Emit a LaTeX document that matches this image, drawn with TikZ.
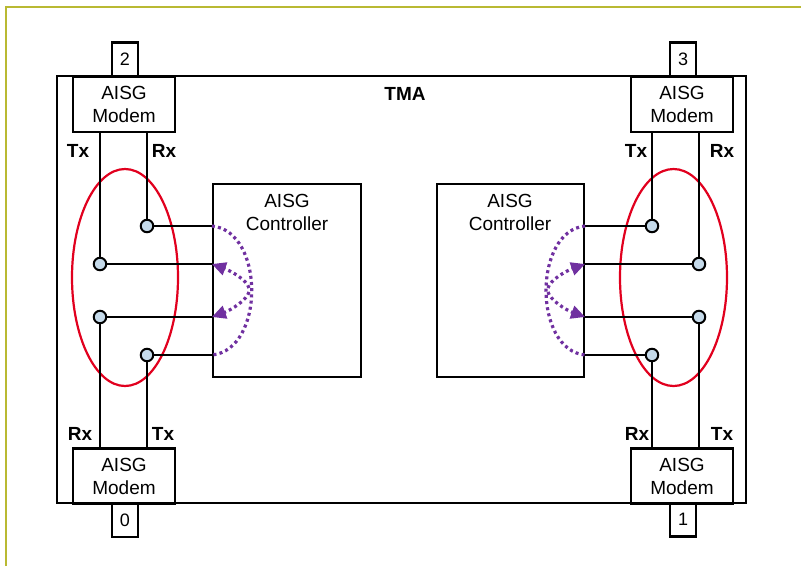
\documentclass[tikz,border=0pt]{standalone}
\usepackage{fontspec}
\setmainfont{Liberation Sans}
\usetikzlibrary{shapes.geometric,arrows.meta}
\definecolor{frameol}{RGB}{185,185,50}
\definecolor{ellred}{RGB}{225,0,30}
\definecolor{purp}{RGB}{112,48,160}
\definecolor{dotblue}{RGB}{197,218,234}
\tikzset{
  txt/.style={font=\fontsize{19}{23}\selectfont, inner sep=0pt},
  lbl/.style={font=\fontsize{19}{23}\selectfont\bfseries, inner sep=0pt},
  box/.style={draw, line width=2.2pt, fill=white, align=center, inner sep=0pt, font=\fontsize{19}{23}\selectfont},
  modem/.style={box, minimum width=102pt, minimum height=55pt},
  port/.style={box, minimum width=26pt, minimum height=34pt, font=\fontsize{18}{22}\selectfont},
  wire/.style={line width=2.2pt},
  jdot/.style={circle, draw, fill=dotblue, line width=2pt, minimum size=12.5pt, inner sep=0pt},
  ell/.style={ellipse, draw=ellred, line width=2.2pt, inner sep=0pt},
  pdot/.style={draw=purp, line width=3.2pt, dash pattern=on 3pt off 3.2pt},
  parrow/.style={pdot, -{Triangle[length=14pt,width=13pt,fill=purp]}}
}
\begin{document}
\begin{tikzpicture}[x=1pt,y=-1pt]
\useasboundingbox (0,0) rectangle (801,566);
% outer olive frame
\coordinate (fa) at (6,566);
\coordinate (fb) at (6,7);
\coordinate (fc) at (801,7);
\draw[frameol, line width=2.4pt] (fa) -- (fb) -- (fc);

% TMA box
\node[draw, line width=2.2pt, minimum width=689pt, minimum height=427pt, inner sep=0pt] (tma) at (401.5,289.5) {};
\node[lbl] (tmal) at (405,94) {TMA};

% ports
\node[port] (p2) at (125,59.5) {2};
\node[port] (p3) at (683,59.5) {3};
\node[port] (p0) at (125,520) {0};
\node[port] (p1) at (683,519.5) {1};

% modems
\node[modem] (mTL) at (124,104.5) {AISG\\Modem};
\node[modem] (mTR) at (682,104.5) {AISG\\Modem};
\node[modem] (mBL) at (124,476) {AISG\\Modem};
\node[modem] (mBR) at (682,476) {AISG\\Modem};

% controllers
\node[draw, line width=2.2pt, minimum width=148pt, minimum height=193pt, inner sep=0pt] (cL) at (287,280.5) {};
\node[draw, line width=2.2pt, minimum width=147pt, minimum height=193pt, inner sep=0pt] (cR) at (510.5,280.5) {};
\node[txt, anchor=north, align=center] (cLt) at (287,194.5) {AISG\\Controller};
\node[txt, anchor=north, align=center] (cRt) at (510,194.5) {AISG\\Controller};

% ellipses
\node[ell, minimum width=106pt, minimum height=217pt] (eL) at (125,277.5) {};
\node[ell, minimum width=107pt, minimum height=217pt] (eR) at (673.5,277.5) {};

% junction dots
\node[jdot] (l1) at (147,226) {};
\node[jdot] (l2) at (100,264) {};
\node[jdot] (l3) at (100,317) {};
\node[jdot] (l4) at (147,355) {};
\node[jdot] (r1) at (652,226) {};
\node[jdot] (r2) at (699,264) {};
\node[jdot] (r3) at (699,317) {};
\node[jdot] (r4) at (652,355) {};

% vertical wires
\draw[wire] (l1 |- mTL.south) -- (l1);
\draw[wire] (l2 |- mTL.south) -- (l2);
\draw[wire] (l3) -- (l3 |- mBL.north);
\draw[wire] (l4) -- (l4 |- mBL.north);
\draw[wire] (r1 |- mTR.south) -- (r1);
\draw[wire] (r2 |- mTR.south) -- (r2);
\draw[wire] (r3) -- (r3 |- mBR.north);
\draw[wire] (r4) -- (r4 |- mBR.north);

% horizontal wires
\coordinate (pL1) at (cL.west |- l1);
\coordinate (pL2) at (cL.west |- l2);
\coordinate (pL3) at (cL.west |- l3);
\coordinate (pL4) at (cL.west |- l4);
\coordinate (pR1) at (cR.east |- r1);
\coordinate (pR2) at (cR.east |- r2);
\coordinate (pR3) at (cR.east |- r3);
\coordinate (pR4) at (cR.east |- r4);
\draw[wire] (l1) -- (pL1);
\draw[wire] (l2) -- (pL2);
\draw[wire] (l3) -- (pL3);
\draw[wire] (l4) -- (pL4);
\draw[wire] (r1) -- (pR1);
\draw[wire] (r2) -- (pR2);
\draw[wire] (r3) -- (pR3);
\draw[wire] (r4) -- (pR4);

% Tx / Rx labels
\node[lbl] (tTL) at (78,151) {Tx};
\node[lbl] (rTL) at (164,151) {Rx};
\node[lbl] (rBL) at (80,434) {Rx};
\node[lbl] (tBL) at (163,434) {Tx};
\node[lbl] (tTR) at (636,151) {Tx};
\node[lbl] (rTR) at (722,151) {Rx};
\node[lbl] (rBR) at (637,434) {Rx};
\node[lbl] (tBR) at (722,434) {Tx};

% purple dotted loops
\coordinate (aL) at (249,288);
\coordinate (bL) at (249,292);
\coordinate (aR) at (548,288);
\coordinate (bR) at (548,292);
\draw[pdot] (pL1) .. controls (265,231) and (265,350) .. (pL4);
\draw[parrow] (aL) .. controls (247,280) and (231,271) .. (pL2);
\draw[parrow] (bL) .. controls (247,300) and (231,310) .. (pL3);
\draw[pdot] (pR1) .. controls (533,231) and (533,350) .. (pR4);
\draw[parrow] (aR) .. controls (550,280) and (566,271) .. (pR2);
\draw[parrow] (bR) .. controls (550,300) and (566,310) .. (pR3);
\end{tikzpicture}
\end{document}
